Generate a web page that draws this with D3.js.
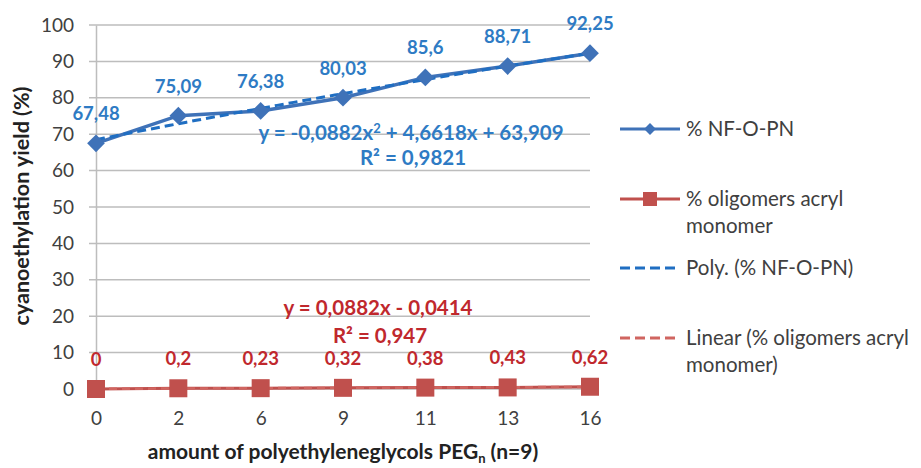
<!DOCTYPE html>
<html><head><meta charset="utf-8">
<script src="https://cdn.jsdelivr.net/npm/d3@7"></script>
<style>body{margin:0;background:#fff}svg{display:block;font-family:Lato,"Open Sans",sans-serif}</style>
</head><body><svg id="c" width="921" height="468"></svg>
<script>
const categories = ["0","2","6","9","11","13","16"];
const nfValues = [67.48,75.09,76.38,80.03,85.6,88.71,92.25];
const nfLabels = ["67,48","75,09","76,38","80,03","85,6","88,71","92,25"];
const oligoValues = [0,0.2,0.23,0.32,0.38,0.43,0.62];
const oligoLabels = ["0","0,2","0,23","0,32","0,38","0,43","0,62"];
const yTicks = [0,10,20,30,40,50,60,70,80,90,100];
const polyCoef = [-0.0882,4.6618,63.909];
const linCoef = [0.0882,-0.0414];
const legendItems = [
  {lines:["% NF-O-PN"], type:"diamond"},
  {lines:["% oligomers acryl","monomer"], type:"square"},
  {lines:["Poly. (% NF-O-PN)"], type:"polydash"},
  {lines:["Linear (% oligomers acryl","monomer)"], type:"lindash"}
];

const blue="#3F72B8", blueLbl="#2E7BC4", red="#C0504D", redLbl="#C0282D", txt="#404040";
const svg=d3.select("#c");
const x=d3.scalePoint().domain(categories).range([96,590]).padding(0);
const y=d3.scaleLinear().domain([0,100]).range([389,25]);
const xi=d3.scaleLinear().domain([1,categories.length]).range([96,590]);

// grid
svg.append("g").selectAll("line").data(yTicks).join("line")
 .attr("x1",89).attr("x2",590).attr("y1",d=>y(d)).attr("y2",d=>y(d))
 .attr("stroke","#bdbdbd").attr("stroke-width",1.5);
// y axis
const ya=svg.append("g").attr("transform","translate(96,0)")
 .call(d3.axisLeft(y).tickValues(yTicks).tickSize(0).tickPadding(22));
ya.select(".domain").attr("stroke","#bdbdbd").attr("stroke-width",1.5);
ya.selectAll("text").attr("font-size",19).attr("fill",txt).style("font-family","Lato");
// x axis
const xa=svg.append("g").attr("transform","translate(0,389)")
 .call(d3.axisBottom(x).tickSize(0).tickPadding(23));
xa.select(".domain").remove();
xa.selectAll("text").attr("font-size",19).attr("fill",txt).style("font-family","Lato");

// titles
svg.append("text").attr("transform","translate(29,206) rotate(-90)").attr("text-anchor","middle")
 .attr("font-size",21.5).attr("font-weight","bold").attr("fill","#222").text("cyanoethylation yield (%)");
const xt=svg.append("text").attr("x",343).attr("y",459).attr("text-anchor","middle")
 .attr("font-size",21).attr("font-weight","bold").attr("fill","#222");
xt.append("tspan").text("amount of polyethyleneglycols PEG");
xt.append("tspan").attr("dy",4).attr("font-size",13).text("n");
xt.append("tspan").attr("dy",-4).text(" (n=9)");

// red series
svg.append("path").datum(oligoValues).attr("fill","none").attr("stroke",red).attr("stroke-width",3)
 .attr("d",d3.line().x((d,i)=>x(categories[i])).y(d=>y(d)));
const linData=d3.range(1,categories.length+1);
svg.append("path").datum(linData).attr("fill","none").attr("stroke","#D06560").attr("stroke-width",2.5)
 .attr("stroke-dasharray","8,5").attr("d",d3.line().x(d=>xi(d)).y(d=>y(linCoef[0]*d+linCoef[1])));
svg.append("g").selectAll("rect").data(oligoValues).join("rect")
 .attr("x",(d,i)=>x(categories[i])-9).attr("y",d=>y(d)-9).attr("width",18).attr("height",18).attr("fill",red);

// blue series
svg.append("path").datum(nfValues).attr("fill","none").attr("stroke",blue).attr("stroke-width",3.5)
 .attr("d",d3.line().x((d,i)=>x(categories[i])).y(d=>y(d)));
const polyData=d3.range(1,7.001,0.1);
svg.append("path").datum(polyData).attr("fill","none").attr("stroke","#1F6EC2").attr("stroke-width",3)
 .attr("stroke-dasharray","9,5").attr("d",d3.line().x(d=>xi(d)).y(d=>y(polyCoef[0]*d*d+polyCoef[1]*d+polyCoef[2])));
svg.append("g").selectAll("path").data(nfValues).join("path")
 .attr("transform",(d,i)=>`translate(${x(categories[i])},${y(d)})`)
 .attr("d",d3.symbol(d3.symbolDiamond2,200)).attr("fill",blue);

// data labels
svg.append("g").selectAll("text").data(nfLabels).join("text")
 .attr("x",(d,i)=>x(categories[i])).attr("y",(d,i)=>y(nfValues[i])-23)
 .attr("text-anchor","middle").attr("font-size",18.5).attr("font-weight","bold").attr("fill",blueLbl).text(d=>d);
svg.append("g").selectAll("text").data(oligoLabels).join("text")
 .attr("x",(d,i)=>x(categories[i])).attr("y",(d,i)=>y(oligoValues[i])-23)
 .attr("text-anchor","middle").attr("font-size",18.5).attr("font-weight","bold").attr("fill",redLbl).text(d=>d);

// equations
function eq(xp,yp,parts,color){
  const t=svg.append("text").attr("x",xp).attr("y",yp).attr("text-anchor","middle")
   .attr("font-size",20.5).attr("font-weight","bold").attr("fill",color);
  parts.forEach(p=>{ if(p.sup){t.append("tspan").attr("dy",-7).attr("font-size",13).text(p.t);} else t.append("tspan").attr("dy",p.after?7:0).text(p.t);});
}
eq(411,140,[{t:"y = -0,0882x"},{t:"2",sup:true},{t:" + 4,6618x + 63,909",after:true}],blueLbl);
eq(413,165,[{t:"R² = 0,9821"}],blueLbl);
eq(378,315,[{t:"y = 0,0882x - 0,0414"}],redLbl);
eq(380,343,[{t:"R² = 0,947"}],redLbl);

// legend
const lgY=[129,199,268,338];
legendItems.forEach((it,k)=>{
  const g=svg.append("g").attr("transform",`translate(0,${lgY[k]})`);
  if(it.type==="diamond"){
    g.append("line").attr("x1",620).attr("x2",680).attr("stroke",blue).attr("stroke-width",3);
    g.append("path").attr("transform","translate(650,0)").attr("d",d3.symbol(d3.symbolDiamond2,90)).attr("fill",blue);
  } else if(it.type==="square"){
    g.append("line").attr("x1",620).attr("x2",680).attr("stroke",red).attr("stroke-width",3);
    g.append("rect").attr("x",643).attr("y",-7).attr("width",14).attr("height",14).attr("fill",red);
  } else {
    g.append("line").attr("x1",620).attr("x2",680).attr("stroke",it.type==="polydash"?"#1F6EC2":"#D06560")
     .attr("stroke-width",3).attr("stroke-dasharray","10,5");
  }
  it.lines.forEach((l,j)=>g.append("text").attr("x",686).attr("y",7+j*27).attr("font-size",20.5).attr("fill",txt).text(l));
});
</script></body></html>
